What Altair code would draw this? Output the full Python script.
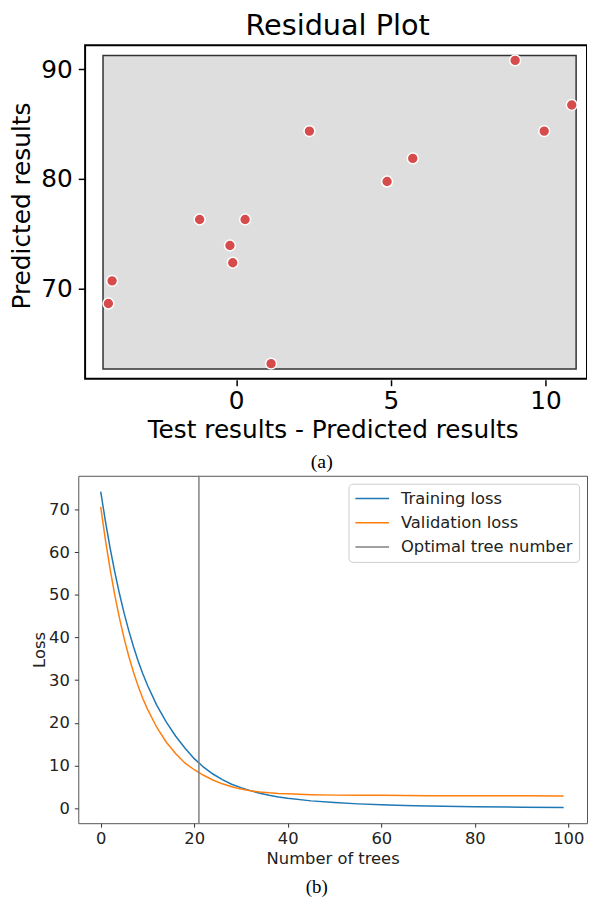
import altair as alt
import pandas as pd

FONT = "DejaVu Sans"
SERIF = "Liberation Serif"

# ---------------- Panel (a): residual plot ----------------
res_x = [-4.13, -4.01, -1.18, -0.20, -0.11, 0.29, 1.13, 2.37, 4.88, 5.71, 9.02, 9.96, 10.85]
pred_y = [68.65, 70.72, 76.31, 73.94, 72.37, 76.31, 63.17, 84.37, 79.77, 81.88, 90.81, 84.37, 86.75]
a_x_domain = [-5.104, 11.344]
a_y_domain = [61.61, 92.373]
a_x_ticks = [0, 5, 10]
a_y_ticks = [70, 80, 90]
gray_x = [-4.304, 10.992]
gray_y = [62.69, 91.26]
frame_x = [-4.883, 11.344]
frame_y = [61.79, 92.19]

# ---------------- Panel (b): loss curves ----------------
trees = [0, 1, 2, 3, 4, 5, 6, 7, 8, 9, 10, 12, 14, 16, 18, 20, 22, 24, 26, 28, 30,
         32, 34, 36, 38, 40, 45, 50, 55, 60, 65, 70, 80, 90, 99]
train_loss = [74.2, 67.3, 61.0, 55.4, 50.3, 45.7, 41.6, 37.9, 34.5, 31.5, 28.8, 24.1,
              20.2, 16.9, 14.1, 11.6, 9.6, 8.0, 6.7, 5.6, 4.8, 4.1, 3.5, 3.0, 2.6, 2.3,
              1.7, 1.3, 1.0, 0.78, 0.6, 0.48, 0.32, 0.22, 0.17]
val_loss = [70.6, 62.9, 56.1, 50.0, 44.6, 39.8, 35.6, 31.9, 28.6, 25.7, 23.2, 18.9,
            15.5, 12.8, 10.6, 9.0, 7.7, 6.6, 5.7, 5.0, 4.5, 4.1, 3.8, 3.6, 3.45, 3.35,
            3.15, 3.05, 3.0, 3.0, 2.95, 2.93, 2.9, 2.88, 2.87]
optimal_tree = [21]
series_names = ["Training loss", "Validation loss", "Optimal tree number"]
series_colors = ["#1f77b4", "#ff7f0e", "#808080"]
b_x_domain = [-4.8, 104.0]
b_y_domain = [-3.53, 77.9]
b_x_ticks = [0, 20, 40, 60, 80, 100]
b_y_ticks = [0, 10, 20, 30, 40, 50, 60, 70]

# ---------- build panel (a) ----------
xa = alt.Scale(domain=a_x_domain, nice=False, zero=False)
ya = alt.Scale(domain=a_y_domain, nice=False, zero=False)
ax_a = alt.Axis(values=a_x_ticks, grid=False, domain=False, offset=-1, tickSize=6,
                tickWidth=1.5, tickColor="black", labelFontSize=25, titleFontSize=25,
                labelPadding=3, titlePadding=4, labelFont=FONT, titleFont=FONT,
                titleFontWeight="normal", labelColor="black", titleColor="black")
ay_a = alt.Axis(values=a_y_ticks, grid=False, domain=False, offset=-7, tickSize=7,
                tickWidth=1.5, tickColor="black", labelFontSize=25, titleFontSize=25,
                labelPadding=6, titlePadding=6, labelFont=FONT, titleFont=FONT,
                titleFontWeight="normal", labelColor="black", titleColor="black",
                titleY=164)
XT_A = "Test results - Predicted results"
YT_A = "Predicted results"

bg_df = pd.DataFrame({"x": [gray_x[0]], "x2": [gray_x[1]], "y": [gray_y[0]], "y2": [gray_y[1]]})
fr_df = pd.DataFrame({"x": [frame_x[0]], "x2": [frame_x[1]], "y": [frame_y[0]], "y2": [frame_y[1]]})
pts_df = pd.DataFrame({"x": res_x, "y": pred_y})

bg = alt.Chart(bg_df).mark_rect(fill="#dedede", stroke="#333333", strokeWidth=1.5).encode(
    x=alt.X("x:Q", scale=xa, axis=ax_a, title=XT_A), x2="x2:Q",
    y=alt.Y("y:Q", scale=ya, axis=ay_a, title=YT_A), y2="y2:Q")
frame = alt.Chart(fr_df).mark_rect(filled=False, stroke="black", strokeWidth=2, clip=True).encode(
    x=alt.X("x:Q", scale=xa, axis=ax_a, title=XT_A), x2="x2:Q",
    y=alt.Y("y:Q", scale=ya, axis=ay_a, title=YT_A), y2="y2:Q")
pts = alt.Chart(pts_df).mark_circle(size=120, color="#d64b4b", opacity=1, stroke="white",
                                    strokeWidth=1.5).encode(
    x=alt.X("x:Q", scale=xa, axis=ax_a, title=XT_A),
    y=alt.Y("y:Q", scale=ya, axis=ay_a, title=YT_A))
title_a = alt.Chart(pd.DataFrame({"t": ["Residual Plot"]})).mark_text(
    font=FONT, fontSize=29, color="black", baseline="top", align="center").encode(
    text="t:N", x=alt.value(262), y=alt.value(-31))
cap_a = alt.Chart(pd.DataFrame({"t": ["(a)"]})).mark_text(
    font=SERIF, fontSize=20, color="black", baseline="middle", align="center").encode(
    text="t:N", x=alt.value(246), y=alt.value(423))

panel_a = alt.layer(bg, frame, pts, title_a, cap_a).properties(width=514, height=341)

# ---------- build panel (b) ----------
xb = alt.Scale(domain=b_x_domain, nice=False, zero=False)
yb = alt.Scale(domain=b_y_domain, nice=False, zero=False)
ax_b = alt.Axis(values=b_x_ticks, grid=False, domain=False, tickSize=4, tickColor="#333333",
                labelFontSize=16.5, titleFontSize=16.5, labelPadding=4, titlePadding=3,
                labelFont=FONT, titleFont=FONT, titleFontWeight="normal",
                labelColor="#222222", titleColor="#222222")
ay_b = alt.Axis(values=b_y_ticks, grid=False, domain=False, tickSize=4, tickColor="#333333",
                labelFontSize=16.5, titleFontSize=16.5, labelPadding=5, titlePadding=1,
                labelFont=FONT, titleFont=FONT, titleFontWeight="normal",
                labelColor="#222222", titleColor="#222222")
color_scale = alt.Scale(domain=series_names, range=series_colors)
legend = alt.Legend(title=None, orient="top-right", offset=8, symbolType="M-1,0H3.25",
                    symbolSize=256, symbolStrokeWidth=1.5, labelFont=FONT, labelFontSize=16.5,
                    labelColor="#222222", labelOffset=29, labelLimit=400, rowPadding=6.5,
                    padding=6, strokeColor="#cccccc", fillColor="white", cornerRadius=4)

loss_df = pd.DataFrame({
    "trees": trees * 2,
    "loss": train_loss + val_loss,
    "series": [series_names[0]] * len(trees) + [series_names[1]] * len(trees),
})
rule_df = pd.DataFrame({"trees": optimal_tree, "series": [series_names[2]]})

lines = alt.Chart(loss_df).mark_line(strokeWidth=1.5).encode(
    x=alt.X("trees:Q", scale=xb, axis=ax_b, title="Number of trees"),
    y=alt.Y("loss:Q", scale=yb, axis=ay_b, title="Loss"),
    color=alt.Color("series:N", scale=color_scale, legend=legend, sort=series_names),
    order=alt.Order("trees:Q"))
rule = alt.Chart(rule_df).mark_rule(strokeWidth=1.5).encode(
    x=alt.X("trees:Q", scale=xb, axis=ax_b, title="Number of trees"),
    color=alt.Color("series:N", scale=color_scale, legend=legend, sort=series_names))
cap_b = alt.Chart(pd.DataFrame({"t": ["(b)"]})).mark_text(
    font=SERIF, fontSize=19, color="black", baseline="middle", align="center").encode(
    text="t:N", x=alt.value(241), y=alt.value(416))

panel_b = alt.layer(lines, rule, cap_b).properties(
    width=514, height=351,
    view=alt.ViewBackground(stroke="#555555", strokeWidth=1))

chart = alt.vconcat(panel_a, panel_b, spacing=96, bounds="flush").resolve_scale(
    color="independent"
).resolve_legend(color="independent").properties(
    padding={"left": 2, "top": 0, "right": 0, "bottom": 0}
).configure_view(strokeWidth=0)

chart.save("out.html", embed_options={"renderer": "svg", "actions": False})
